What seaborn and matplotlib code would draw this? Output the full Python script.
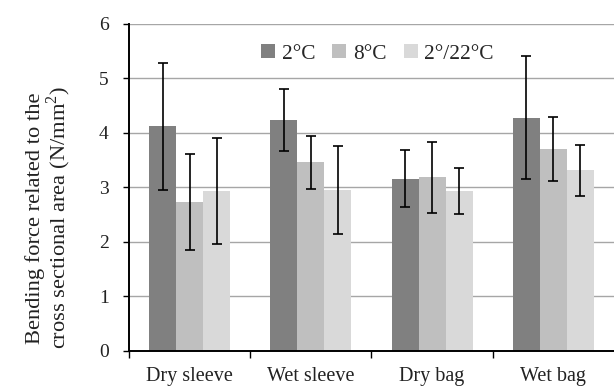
import matplotlib
matplotlib.use("Agg")
import matplotlib.pyplot as plt
import seaborn as sns
import pandas as pd
import numpy as np

categories = ["Dry sleeve", "Wet sleeve", "Dry bag", "Wet bag"]
series = ["2°C", "8°C", "2°/22°C"]
values_2 = [4.12, 4.24, 3.16, 4.28]
values_8 = [2.73, 3.46, 3.18, 3.70]
values_22 = [2.93, 2.95, 2.93, 3.31]
err_2 = [1.17, 0.57, 0.53, 1.13]
err_8 = [0.88, 0.49, 0.66, 0.59]
err_22 = [0.97, 0.81, 0.42, 0.47]
colors = ["#808080", "#bfbfbf", "#d9d9d9"]

rows = []
for s, vals, errs in zip(series, [values_2, values_8, values_22], [err_2, err_8, err_22]):
    for c, v, e in zip(categories, vals, errs):
        rows.append({"cat": c, "temp": s, "val": v, "err": e})
df = pd.DataFrame(rows)

sns.set_theme(style="white")
plt.rcParams["font.family"] = ["Liberation Serif", "DejaVu Serif"]
plt.rcParams["mathtext.fontset"] = "custom"
plt.rcParams["mathtext.rm"] = "Liberation Serif"

fig = plt.figure(figsize=(6.14, 3.91), dpi=100)
ax = fig.add_axes([0.21, 0.103, 0.79, 0.836])

sns.barplot(data=df, x="cat", y="val", hue="temp", order=categories,
            hue_order=series, palette=colors, width=0.667, errorbar=None,
            saturation=1, ax=ax, zorder=3, linewidth=0)

# error bars at each bar centre
for s, cont in zip(series, ax.containers):
    sub = df[df["temp"] == s].set_index("cat").loc[categories]
    xs = [p.get_x() + p.get_width() / 2 for p in cont.patches]
    ax.errorbar(xs, sub["val"].values, yerr=sub["err"].values, fmt="none",
                ecolor="black", elinewidth=1.2, capsize=3.5, capthick=1.2, zorder=4)

ax.set_ylim(0, 6)
ax.set_xlim(-0.5, 3.5)
ax.set_yticks(range(0, 7))
ax.yaxis.grid(True, color="#a6a6a6", linewidth=1.0, zorder=0)
ax.set_axisbelow(True)
for sp in ["top", "right"]:
    ax.spines[sp].set_visible(False)
for sp in ["left", "bottom"]:
    ax.spines[sp].set_color("black")
    ax.spines[sp].set_linewidth(1.4)
    ax.spines[sp].set_zorder(6)

ax.tick_params(axis="y", which="major", left=True, length=4.5, width=1.0, color="black",
               labelsize=14, pad=10, labelcolor="#222222")
ax.set_xticks(range(4))
ax.set_xticklabels(categories, fontsize=14.5, color="#222222")
ax.tick_params(axis="x", which="major", bottom=False, pad=6)
ax.set_xticks([-0.5, 0.5, 1.5, 2.5], minor=True)
ax.tick_params(axis="x", which="minor", bottom=True, length=5, width=1.0, color="black")

ax.set_xlabel("")
ax.set_ylabel("")
fig.text(0.080, 0.4425, "Bending force related to the\ncross sectional area (N/mm$^2$)",
         rotation=90, ha="center", va="center", multialignment="center",
         fontsize=16.2, color="#222222", linespacing=0.95)

handles, labels = ax.get_legend_handles_labels()
ax.legend(handles, labels, loc="center", bbox_to_anchor=(0.512, 5.45 / 6), ncol=3,
          frameon=False, fontsize=15.4, handlelength=0.67, handleheight=0.67,
          handletextpad=0.3, columnspacing=0.8, borderaxespad=0)

fig.savefig("out.png", dpi=100)
